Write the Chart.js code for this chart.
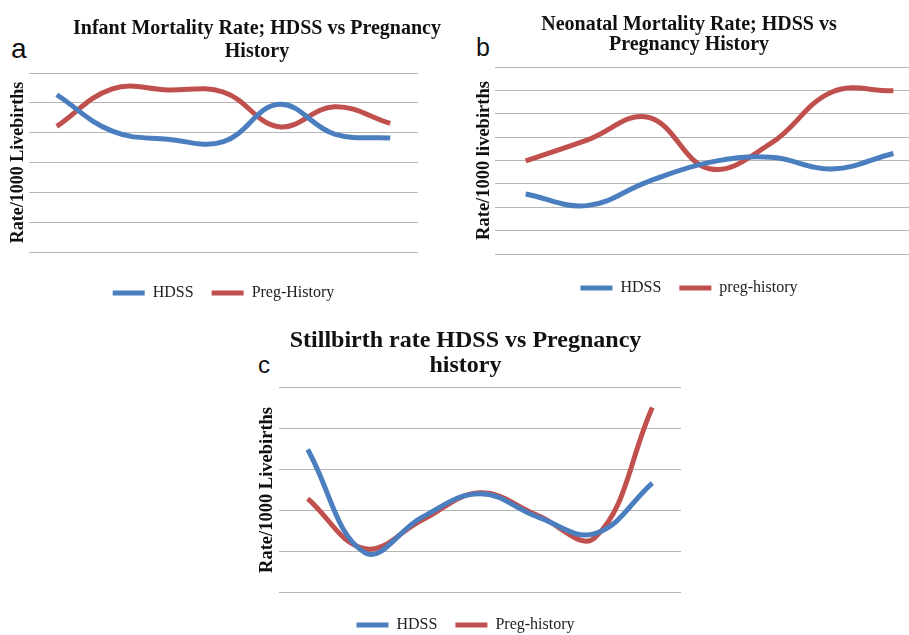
<!DOCTYPE html>
<html>
<head>
<meta charset="utf-8">
<script src="https://cdn.jsdelivr.net/npm/chart.js@4.4.1/dist/chart.umd.min.js"></script>
<style>
    html, body { margin: 0; padding: 0; background: #fff; overflow: hidden; }
    body { width: 909px; height: 635px; position: relative; }
    .panel { position: absolute; }
    .tag { position: absolute; font-family: "Liberation Sans", Arial, sans-serif; line-height: 1; color: #111; }
</style>
</head>
<body>
<div class="tag" style="left:11px; top:35px; font-size:28px;">a</div>
<div class="tag" style="left:476px; top:35px; font-size:25px;">b</div>
<div class="tag" style="left:258px; top:353px; font-size:24px;">c</div>

<div class="panel" style="left:0px; top:0px; width:514px; height:311px;"><canvas id="infantChart"></canvas></div>
<div class="panel" style="left:454px; top:0px; width:470px; height:306px;"><canvas id="neonatalChart"></canvas></div>
<div class="panel" style="left:250px; top:320px; width:431px; height:323px;"><canvas id="stillbirthChart"></canvas></div>

<script>
const periods = ["1", "2", "3", "4", "5", "6", "7"];

// a - infant mortality
const infantHdss = [52.7, 40.5, 37.8, 37.0, 49.5, 39.5, 38.2];
const infantPreg = [42.1, 54.7, 54.3, 53.6, 42.0, 48.7, 43.1];

// b - neonatal mortality
const neonatalHdss = [25.7, 20.7, 31.0, 39.2, 41.4, 36.4, 43.0];
const neonatalPreg = [39.8, 48.7, 58.5, 36.5, 47.3, 69.3, 69.8];

// c - stillbirth
const stillHdss = [34.9, 9.6, 18.4, 24.1, 18.4, 14.3, 26.7];
const stillPreg = [22.9, 10.6, 17.7, 24.3, 18.8, 13.3, 45.2];

const BLUE = "#4a7ebf";
const RED = "#c0504d";
const SERIF = "'Liberation Serif', 'Times New Roman', serif";

const makeDataset = (label, data, color) => ({
    label: label,
    data: data,
    borderColor: color,
    backgroundColor: color,
    borderWidth: 5,
    pointRadius: 0,
    tension: 0.4,
    fill: false,
});

const createChart = (canvasId, o) => {
    const scales = {
        x: {
            offset: true,
            ticks: { display: false },
            grid: { display: false },
            border: { display: false },
            afterFit: (scale) => { scale.height = o.xGap; },
        },
        y: {
            min: 0,
            max: o.yMax,
            ticks: { display: false, stepSize: 10 },
            grid: { color: "#b6b6b6", lineWidth: 1, drawTicks: false },
            border: { display: false },
            title: {
                display: true,
                text: o.yTitle,
                color: "#111",
                font: { family: SERIF, size: o.yTitleSize, weight: "bold" },
                padding: { top: o.yTitlePad, bottom: 0 },
            },
            afterFit: (scale) => { scale.width = o.yWidth; },
        },
    };
    if (o.rightGap) {
        scales.gap = {
            position: "right",
            ticks: { display: false },
            grid: { display: false },
            border: { display: false },
            afterFit: (scale) => { scale.width = o.rightGap; },
        };
    }

    return new Chart(document.getElementById(canvasId), {
        type: "line",
        data: {
            labels: periods,
            datasets: [
                makeDataset(o.names[0], o.hdss, BLUE),
                makeDataset(o.names[1], o.preg, RED),
            ],
        },
        options: {
            responsive: true,
            maintainAspectRatio: false,
            animation: false,
            layout: { padding: 0 },
            scales: scales,
            plugins: {
                title: {
                    display: true,
                    text: o.title,
                    color: "#111",
                    font: { family: SERIF, size: o.titleSize, weight: "bold", lineHeight: o.titleLine },
                    padding: o.titlePad,
                },
                legend: {
                    position: "bottom",
                    fullSize: o.legendFull,
                    labels: {
                        usePointStyle: true,
                        pointStyle: "line",
                        pointStyleWidth: 32,
                        padding: 18,
                        color: "#222",
                        font: { family: SERIF, size: 16 },
                    },
                },
                tooltip: { enabled: false },
            },
        },
    });
};

createChart("infantChart", {
    hdss: infantHdss,
    preg: infantPreg,
    names: ["HDSS", "Preg-History"],
    title: ["Infant Mortality Rate; HDSS vs Pregnancy", "History"],
    titleSize: 20,
    titleLine: 1.15,
    titlePad: { top: 17, bottom: 10 },
    yTitle: "Rate/1000 Livebirths",
    yTitleSize: 18,
    yTitlePad: 8,
    yWidth: 29,
    yMax: 60,
    rightGap: 96,
    xGap: 15,
    legendFull: false,
});

createChart("neonatalChart", {
    hdss: neonatalHdss,
    preg: neonatalPreg,
    names: ["HDSS", "preg-history"],
    title: ["Neonatal Mortality Rate; HDSS vs", "Pregnancy History"],
    titleSize: 20,
    titleLine: 1.0,
    titlePad: { top: 15, bottom: 12 },
    yTitle: "Rate/1000 livebirths",
    yTitleSize: 18.5,
    yTitlePad: 19,
    yWidth: 41,
    yMax: 80,
    rightGap: 0,
    xGap: 8,
    legendFull: true,
});

createChart("stillbirthChart", {
    hdss: stillHdss,
    preg: stillPreg,
    names: ["HDSS", "Preg-history"],
    title: ["Stillbirth rate HDSS vs Pregnancy", "history"],
    titleSize: 24,
    titleLine: 1.04,
    titlePad: { top: 8, bottom: 10 },
    yTitle: "Rate/1000 Livebirths",
    yTitleSize: 18.5,
    yTitlePad: 6,
    yWidth: 29,
    yMax: 50,
    rightGap: 0,
    xGap: 7,
    legendFull: true,
});
</script>
</body>
</html>
